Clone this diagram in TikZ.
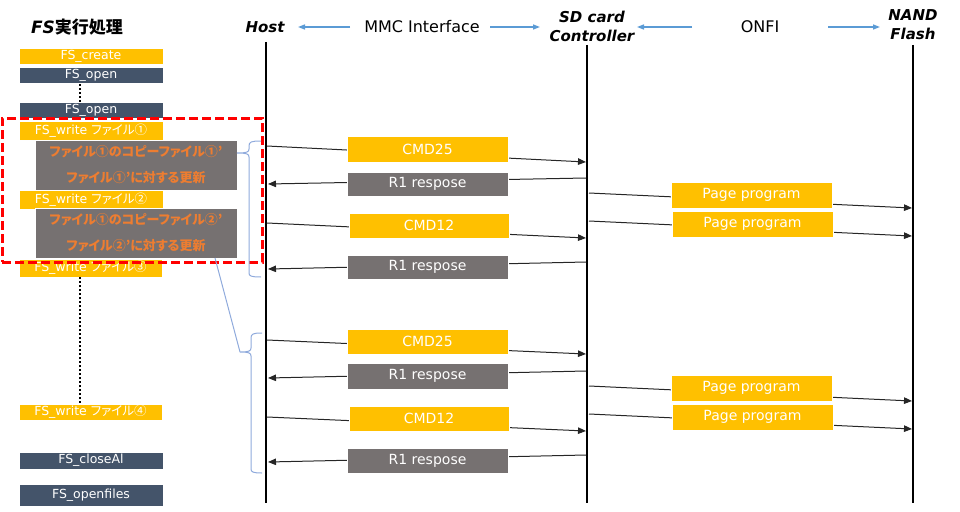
\documentclass[tikz,border=0pt]{standalone}
\usepackage{fontspec}
\setmainfont{DejaVu Sans}
\newfontfamily\jp[RawFeature=+palt]{Noto Sans CJK JP}
\usetikzlibrary{arrows.meta}
\definecolor{cOrange}{HTML}{FFC000}
\definecolor{cSlate}{HTML}{44546A}
\definecolor{cGray}{HTML}{767171}
\definecolor{cOText}{HTML}{ED7D31}
\definecolor{cBrace}{HTML}{8FAADC}
\definecolor{cBlue}{HTML}{5B9BD5}
\definecolor{cLine}{HTML}{262626}
\tikzset{
  obox/.style={fill=cOrange, draw=white, line width=0.4pt, text=white, inner sep=0pt, font=\fontsize{12.5}{14}\selectfont},
  dbox/.style={fill=cSlate, draw=white, line width=0.4pt, text=white, inner sep=0pt, font=\fontsize{12.5}{14}\selectfont},
  gbox/.style={fill=cGray, draw=white, line width=0.4pt, text=cOText, inner sep=0pt, align=center, font=\jp\bfseries\fontsize{13}{26}\selectfont},
  mbox/.style={inner sep=0pt, text=white, draw=white, line width=0.4pt, font=\fontsize{14}{16}\selectfont},
  cmdbox/.style={mbox, fill=cOrange},
  rbox/.style={mbox, fill=cGray},
  msg/.style={draw=cLine, line width=1pt, -{Triangle[length=8pt,width=6.5pt]}},
  life/.style={draw=black, line width=2pt},
  hdr/.style={font=\bfseries\itshape\fontsize{15}{19}\selectfont, align=center, inner sep=0pt},
  hdrarrow/.style={draw=cBlue, line width=1.5pt, -{Triangle[length=7pt,width=5pt]}},
  brace/.style={draw=cBrace, line width=1pt},
  redbox/.style={draw=red, line width=3pt, dash pattern=on 9pt off 4pt},
  dots/.style={draw=black, line width=2pt, dash pattern=on 2pt off 2pt}
}
\begin{document}
\begin{tikzpicture}[x=1pt,y=-1pt]
\useasboundingbox (0,0) rectangle (960,511);
% headers
\node[font=\bfseries\fontsize{17}{20}\selectfont, inner sep=0pt] (fsh) at (77,27) {{\itshape FS}{\jp\bfseries 実行処理}};
\node[hdr] (hhost) at (265,27) {Host};
\node[font=\fontsize{16}{19}\selectfont, inner sep=0pt] (mmc) at (422,27) {MMC Interface};
\node[hdr] (hsd) at (592,26) {SD card\\Controller};
\node[font=\fontsize{16}{19}\selectfont, inner sep=0pt] (onfi) at (760,27) {ONFI};
\node[hdr] (hnand) at (913,25) {NAND\\Flash};
\coordinate (ma1) at (350,27); \coordinate (ma2) at (298,27);
\coordinate (mb1) at (490,27); \coordinate (mb2) at (540,27);
\coordinate (oa1) at (692,27); \coordinate (oa2) at (637,27);
\coordinate (ob1) at (828,27); \coordinate (ob2) at (880,27);
\draw[hdrarrow] (ma1) -- (ma2);
\draw[hdrarrow] (mb1) -- (mb2);
\draw[hdrarrow] (oa1) -- (oa2);
\draw[hdrarrow] (ob1) -- (ob2);
% lifelines
\coordinate (ht) at (266,42); \coordinate (hb) at (266,503);
\coordinate (st) at (587,45); \coordinate (sb) at (587,503);
\coordinate (nt) at (913,45); \coordinate (nb) at (913,503);
\draw[life] (ht) -- (hb);
\draw[life] (st) -- (sb);
\draw[life] (nt) -- (nb);
% left column
\node[obox, minimum width=144pt, minimum height=16pt] (create) at (91,56) {FS\_create};
\node[dbox, minimum width=144pt, minimum height=16pt] (open1) at (91,75) {FS\_open};
\node[dbox, minimum width=144pt, minimum height=16pt] (open2) at (91,110) {FS\_open};
\coordinate (d1a) at (80,84); \coordinate (d1b) at (80,102);
\draw[dots] (d1a) -- (d1b);
\node[obox, minimum width=144pt, minimum height=19pt] (w1) at (91,130.5) {FS\_write {\jp ファイル①}};
\node[gbox, minimum width=202pt, minimum height=50pt] (g1) at (136,165) {ファイル①のコピーファイル①’\\ファイル①’に対する更新};
\node[obox, minimum width=144pt, minimum height=19pt] (w2) at (91,199.5) {FS\_write {\jp ファイル②}};
\node[gbox, minimum width=202pt, minimum height=50pt] (g2) at (136,233) {ファイル①のコピーファイル②’\\ファイル②’に対する更新};
\node[obox, minimum width=143pt, minimum height=18pt] (w3) at (90.5,268) {FS\_write {\jp ファイル③}};
\coordinate (d2a) at (80,277); \coordinate (d2b) at (80,404);
\draw[dots] (d2a) -- (d2b);
\node[obox, minimum width=143pt, minimum height=16pt] (w4) at (90.5,412) {FS\_write {\jp ファイル④}};
\node[dbox, minimum width=144pt, minimum height=17pt] (close) at (91,460.5) {FS\_closeAl};
\node[dbox, minimum width=144pt, minimum height=22pt] (openf) at (91,495) {FS\_openfiles};
% red dashed frame
\node[redbox, minimum width=260pt, minimum height=144pt, inner sep=0pt] (frame) at (132,190) {};
% braces
\draw[brace] (261,141) .. controls (251,141) and (249,142) .. (249,146) -- (249,149)
  .. controls (249,152) and (247,153) .. (237,153)
  .. controls (247,153) and (249,154) .. (249,157) -- (249,273)
  .. controls (249,276) and (251,277) .. (261,277);
\coordinate (b2tip) at (240,352);
\draw[brace] (262,333) .. controls (253,333) and (251,334) .. (251,338) -- (251,348)
  .. controls (251,351) and (249,352) .. (b2tip)
  .. controls (249,352) and (251,353) .. (251,356) -- (251,469)
  .. controls (251,472) and (253,473) .. (262,473);
\coordinate (g2b) at (215,258);
\draw[brace] (g2b) -- (b2tip);
% messages block 1
\coordinate (a1s) at (267,146); \coordinate (a1e) at (586,162);
\coordinate (a2s) at (586,178); \coordinate (a2e) at (268,184);
\coordinate (a3s) at (589,193); \coordinate (a3e) at (912,208);
\coordinate (a4s) at (589,221); \coordinate (a4e) at (912,236);
\coordinate (a5s) at (267,223); \coordinate (a5e) at (586,238);
\coordinate (a6s) at (586,262); \coordinate (a6e) at (268,269);
\draw[msg] (a1s) -- (a1e);
\draw[msg] (a2s) -- (a2e);
\draw[msg] (a3s) -- (a3e);
\draw[msg] (a4s) -- (a4e);
\draw[msg] (a5s) -- (a5e);
\draw[msg] (a6s) -- (a6e);
\node[cmdbox, minimum width=161pt, minimum height=26pt] (cmdA) at (427.5,149) {CMD25};
\node[rbox, minimum width=161pt, minimum height=24pt] (r1A) at (427.5,184) {R1 respose};
\node[cmdbox, minimum width=160pt, minimum height=25pt] (cmdB) at (429,225.5) {CMD12};
\node[rbox, minimum width=161pt, minimum height=24pt] (r1B) at (427.5,267) {R1 respose};
\node[cmdbox, minimum width=161pt, minimum height=26pt] (ppA) at (751.5,195) {Page program};
\node[cmdbox, minimum width=161pt, minimum height=26pt] (ppB) at (752.5,224) {Page program};
% messages block 2
\coordinate (b1s) at (267,340); \coordinate (b1e) at (586,354);
\coordinate (b2s) at (586,371); \coordinate (b2e) at (268,378);
\coordinate (b3s) at (589,386); \coordinate (b3e) at (912,401);
\coordinate (b4s) at (589,414); \coordinate (b4e) at (912,429);
\coordinate (b5s) at (267,417); \coordinate (b5e) at (586,431);
\coordinate (b6s) at (586,455); \coordinate (b6e) at (268,462);
\draw[msg] (b1s) -- (b1e);
\draw[msg] (b2s) -- (b2e);
\draw[msg] (b3s) -- (b3e);
\draw[msg] (b4s) -- (b4e);
\draw[msg] (b5s) -- (b5e);
\draw[msg] (b6s) -- (b6e);
\node[cmdbox, minimum width=161pt, minimum height=25pt] (cmdC) at (427.5,341.5) {CMD25};
\node[rbox, minimum width=161pt, minimum height=26pt] (r1C) at (427.5,376) {R1 respose};
\node[cmdbox, minimum width=160pt, minimum height=25pt] (cmdD) at (429,418.5) {CMD12};
\node[rbox, minimum width=161pt, minimum height=25pt] (r1D) at (427.5,460.5) {R1 respose};
\node[cmdbox, minimum width=161pt, minimum height=26pt] (ppC) at (751.5,388) {Page program};
\node[cmdbox, minimum width=161pt, minimum height=26pt] (ppD) at (752.5,417) {Page program};
\end{tikzpicture}
\end{document}
